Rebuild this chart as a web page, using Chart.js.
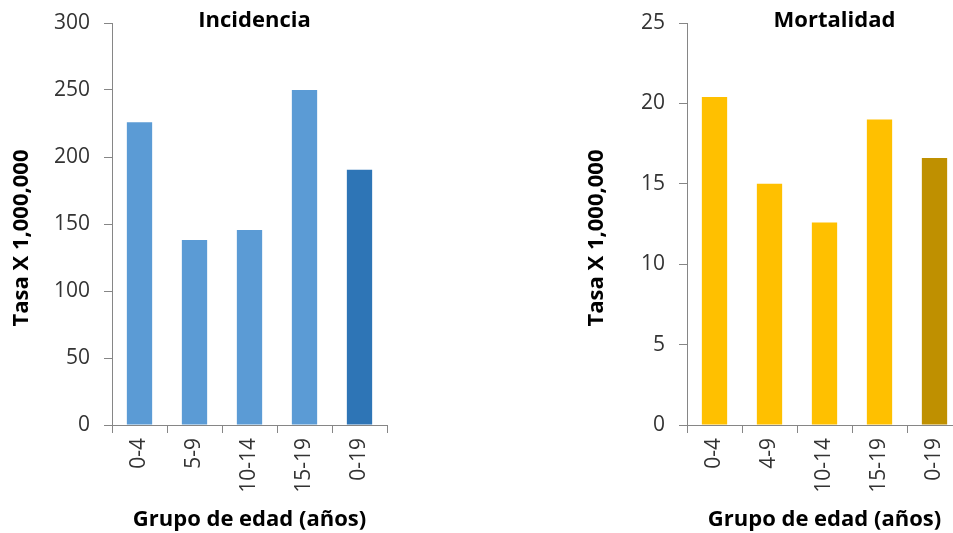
<!DOCTYPE html>
<html lang="es">
<head>
<meta charset="utf-8">
<title>Incidencia y Mortalidad por grupo de edad</title>
<script src="https://cdn.jsdelivr.net/npm/chart.js@4/dist/chart.umd.min.js"></script>
<style>
  html, body { margin: 0; padding: 0; background: #ffffff; overflow: hidden; }
  body { width: 953px; height: 533px; position: relative; }
  .panel { position: absolute; top: 0; width: 400px; height: 533px; }
  #leftPanel { left: 0; }
  #rightPanel { left: 575px; }
</style>
</head>
<body>
<div class="panel" id="leftPanel"><canvas id="incidencia"></canvas></div>
<div class="panel" id="rightPanel"><canvas id="mortalidad"></canvas></div>
<script>
// Age groups and rates (per 1,000,000)
const incidenceGroups = ['0-4', '5-9', '10-14', '15-19', '0-19'];
const incidenceRates = [226, 138, 145.5, 250, 190.5];
const incidenceTicks = { max: 300, step: 50 };

const mortalityGroups = ['0-4', '4-9', '10-14', '15-19', '0-19'];
const mortalityRates = [20.4, 15, 12.6, 19, 16.6];
const mortalityTicks = { max: 25, step: 5 };

const incidenceColors = ['#5B9BD5', '#5B9BD5', '#5B9BD5', '#5B9BD5', '#2E75B6'];
const mortalityColors = ['#FFC000', '#FFC000', '#FFC000', '#FFC000', '#BF9000'];

const FONT = "'Open Sans', 'Liberation Sans', sans-serif";
const AXIS_GRAY = '#868686';
const TEXT_GRAY = '#333333';

// Panel heading and value-axis caption, placed relative to the plot area
const panelText = {
  id: 'panelText',
  afterDraw(chart, args, opts) {
    const { ctx, chartArea } = chart;
    ctx.save();
    ctx.fillStyle = '#000000';
    ctx.textAlign = 'center';
    ctx.textBaseline = 'middle';
    ctx.font = `bold ${opts.titleSize}px ${FONT}`;
    ctx.fillText(opts.title, (chartArea.left + chartArea.right) / 2 + opts.titleDx, opts.titleY);

    ctx.font = `bold ${opts.axisSize}px ${FONT}`;
    ctx.translate(opts.axisX, (chartArea.top + chartArea.bottom) / 2 + opts.axisDy);
    ctx.rotate(-Math.PI / 2);
    ctx.fillText(opts.axisText, 0, 0);
    ctx.restore();
  }
};

function makeChart(canvasId, title, titleDx, labels, values, colors, ticks) {
  return new Chart(document.getElementById(canvasId), {
    type: 'bar',
    data: {
      labels: labels,
      datasets: [{
        data: values,
        backgroundColor: colors,
        borderWidth: 0,
        barPercentage: 0.46,
        categoryPercentage: 1.0
      }]
    },
    options: {
      responsive: true,
      maintainAspectRatio: false,
      animation: false,
      layout: { padding: { top: 23, right: 13, bottom: 0, left: 0 } },
      plugins: {
        legend: { display: false },
        tooltip: { enabled: false },
        panelText: {
          title: title, titleSize: 22, titleDx: titleDx, titleY: 21,
          axisText: 'Tasa X 1,000,000', axisSize: 22, axisX: 22, axisDy: 14
        }
      },
      scales: {
        x: {
          offset: true,
          grid: {
            offset: true,
            drawOnChartArea: false,
            drawTicks: true,
            tickLength: 8,
            color: AXIS_GRAY,
            lineWidth: 1
          },
          border: { color: AXIS_GRAY, width: 1 },
          ticks: {
            minRotation: 90,
            maxRotation: 90,
            autoSkip: false,
            padding: 5,
            color: TEXT_GRAY,
            font: { family: FONT, size: 21 }
          },
          title: {
            display: true,
            text: 'Grupo de edad (años)',
            color: '#000000',
            padding: { top: 0, bottom: 0 },
            font: { family: FONT, size: 22, weight: 'bold' }
          },
          afterFit(scale) { scale.height = 108; }
        },
        y: {
          min: 0,
          max: ticks.max,
          grid: {
            drawOnChartArea: false,
            drawTicks: true,
            tickLength: 8,
            color: AXIS_GRAY,
            lineWidth: 1
          },
          border: { color: AXIS_GRAY, width: 1 },
          ticks: {
            stepSize: ticks.step,
            padding: 14,
            color: TEXT_GRAY,
            font: { family: FONT, size: 21 }
          },
          afterFit(scale) {
            scale.width = 112;
            scale.paddingTop = 0;
          }
        }
      }
    },
    plugins: [panelText]
  });
}

makeChart('incidencia', 'Incidencia', 5, incidenceGroups, incidenceRates, incidenceColors, incidenceTicks);
makeChart('mortalidad', 'Mortalidad', 10, mortalityGroups, mortalityRates, mortalityColors, mortalityTicks);
</script>
</body>
</html>
